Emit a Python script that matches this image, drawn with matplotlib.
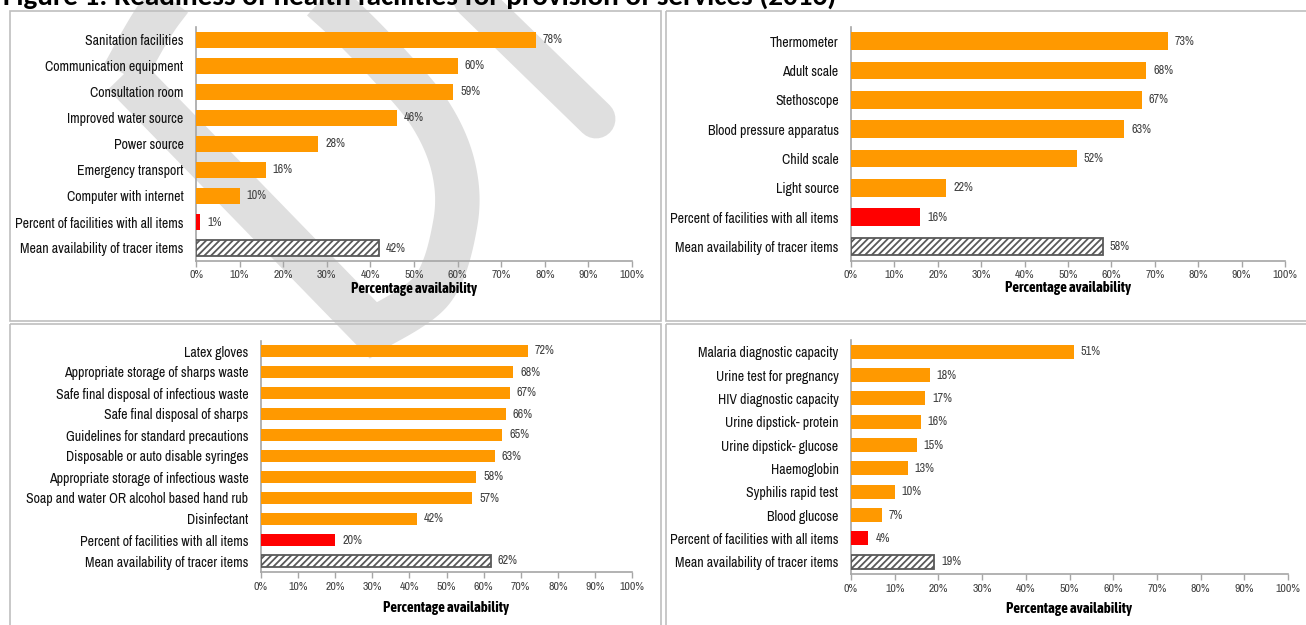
import numpy as np
import matplotlib
matplotlib.use("Agg")
import matplotlib.pyplot as plt
from matplotlib.patches import Rectangle, Polygon
from matplotlib.lines import Line2D

plt.rcParams['font.family'] = ['Archivo Narrow', 'Liberation Sans', 'DejaVu Sans']
plt.rcParams['hatch.linewidth'] = 1.3

# ---------------- data ----------------
title = "Figure 1: Readiness of health facilities for provision of services (2016)"

amen_labels = ["Sanitation facilities", "Communication equipment", "Consultation room",
               "Improved water source", "Power source", "Emergency transport",
               "Computer with internet", "Percent of facilities with all items",
               "Mean availability of tracer items"]
amen_values = [78, 60, 59, 46, 28, 16, 10, 1, 42]

equip_labels = ["Thermometer", "Adult scale", "Stethoscope", "Blood pressure apparatus",
                "Child scale", "Light source", "Percent of facilities with all items",
                "Mean availability of tracer items"]
equip_values = [73, 68, 67, 63, 52, 22, 16, 58]

prec_labels = ["Latex gloves", "Appropriate storage of sharps waste",
               "Safe final disposal of infectious waste", "Safe final disposal of sharps",
               "Guidelines for standard precautions", "Disposable or auto disable syringes",
               "Appropriate storage of infectious waste",
               "Soap and water OR alcohol based hand rub", "Disinfectant",
               "Percent of facilities with all items", "Mean availability of tracer items"]
prec_values = [72, 68, 67, 66, 65, 63, 58, 57, 42, 20, 62]

diag_labels = ["Malaria diagnostic capacity", "Urine test for pregnancy",
               "HIV diagnostic capacity", "Urine dipstick- protein",
               "Urine dipstick- glucose", "Haemoglobin", "Syphilis rapid test",
               "Blood glucose", "Percent of facilities with all items",
               "Mean availability of tracer items"]
diag_values = [51, 18, 17, 16, 15, 13, 10, 7, 4, 19]

xticks = [0, 10, 20, 30, 40, 50, 60, 70, 80, 90, 100]
xlabel = "Percentage availability"

# ---------------- style ----------------
ORANGE = "#FF9900"
RED = "#FF0000"
HATCH_EDGE = "#595959"
SPINE = "#A6A6A6"
BOX = "#BFBFBF"
WM = "#DFDFDF"

W, H = 1306, 625
fig = plt.figure(figsize=(W / 100, H / 100), dpi=100)
fig.patch.set_facecolor("white")

# background layer (watermark + panel boxes)
bg = fig.add_axes([0, 0, 1, 1], zorder=0)
bg.set_xlim(0, W)
bg.set_ylim(H, 0)
bg.axis("off")


def catmull(pts, n=24):
    P = np.array(pts, dtype=float)
    P = np.vstack([P[0], P, P[-1]])
    out = []
    for i in range(1, len(P) - 2):
        p0, p1, p2, p3 = P[i - 1], P[i], P[i + 1], P[i + 2]
        for t in np.linspace(0, 1, n, endpoint=False):
            out.append(0.5 * ((2 * p1) + (-p0 + p2) * t + (2 * p0 - 5 * p1 + 4 * p2 - p3) * t * t
                              + (-p0 + 3 * p1 - 3 * p2 + p3) * t ** 3))
    out.append(P[-2])
    return np.array(out)


# watermark: a "D"-like stroke plus a separate diagonal bar
A = (124, 74)
B = (373, 330)
arc = catmull([A, (162, 10), (210, -38), (272, -38), (332, 8), (390, 66), (432, 117),
               (454, 170), (455, 225), (432, 290), B])
dpts = np.vstack([arc, [A]])
bg.add_patch(Polygon(dpts, closed=True, fill=False, edgecolor=WM, lw=32,
                     joinstyle="miter", zorder=1))
bg.add_line(Line2D([448, 596], [-25, 119], color=WM, lw=28, solid_capstyle="round", zorder=1))

# panel boxes
for (x0, y0, x1, y1) in [(10, 11, 660.5, 320.5), (665.5, 11, 1320, 320.5),
                         (9.5, 323.5, 660.5, 640), (665.5, 323.5, 1320, 640)]:
    bg.add_patch(Rectangle((x0, y0), x1 - x0, y1 - y0, fill=False, edgecolor=BOX,
                           lw=1.2, zorder=2))

fig.text(0.002, 1 - 4.5 / H, title, fontsize=21, fontweight="bold", va="baseline", ha="left",
         family=["Carlito", "Liberation Sans", "DejaVu Sans"], color="black")


def panel(l, t, r, b, labels, values, tickpad, xlab_off):
    ax = fig.add_axes([l / W, 1 - b / H, (r - l) / W, (b - t) / H], zorder=3)
    ax.set_facecolor("none")
    n = len(labels)
    y = np.arange(n)
    colors = [ORANGE] * (n - 2) + [RED, "white"]
    bars = ax.barh(y, values, height=0.6, color=colors, edgecolor="none", zorder=3)
    mean_bar = bars[-1]
    mean_bar.set_edgecolor(HATCH_EDGE)
    mean_bar.set_hatch("/////")
    mean_bar.set_linewidth(1.3)
    for yi, v in zip(y, values):
        ax.annotate(f"{v:.0f}%", xy=(v, yi), xytext=(5, 0), textcoords="offset points",
                    ha="left", va="center", fontsize=8.8, color="#404040", zorder=4)
    ax.set_xlim(0, 100)
    ax.set_ylim(n - 0.5, -0.5)
    ax.set_yticks(y)
    ax.set_yticklabels(labels, fontsize=10, color="#111111")
    ax.set_xticks(xticks)
    ax.set_xticklabels([f"{v}%" for v in xticks], fontsize=8.5, color="#404040")
    ax.tick_params(axis="y", length=0, pad=9)
    ax.tick_params(axis="x", length=4, width=1, color=SPINE, pad=tickpad, direction="out")
    for s in ["top", "right"]:
        ax.spines[s].set_visible(False)
    for s in ["left", "bottom"]:
        ax.spines[s].set_color(SPINE)
        ax.spines[s].set_linewidth(1.2)
    ax.annotate(xlabel, xy=(0.5, 0), xycoords="axes fraction", xytext=(0, -xlab_off * 0.72),
                textcoords="offset points", ha="center", va="center", fontsize=10.6,
                fontweight="bold", color="black",
                family=["Asap Condensed", "Liberation Sans", "DejaVu Sans"])
    return ax


panel(196, 27, 632, 261, amen_labels, amen_values, 2.6, 27.5)
panel(851, 26.5, 1285, 261, equip_labels, equip_values, 2.6, 27)
panel(261, 340.5, 632, 571.5, prec_labels, prec_values, 3.8, 36.5)
panel(851, 340, 1288, 573.5, diag_labels, diag_values, 3.8, 35.5)

fig.savefig("out.png", dpi=100)
